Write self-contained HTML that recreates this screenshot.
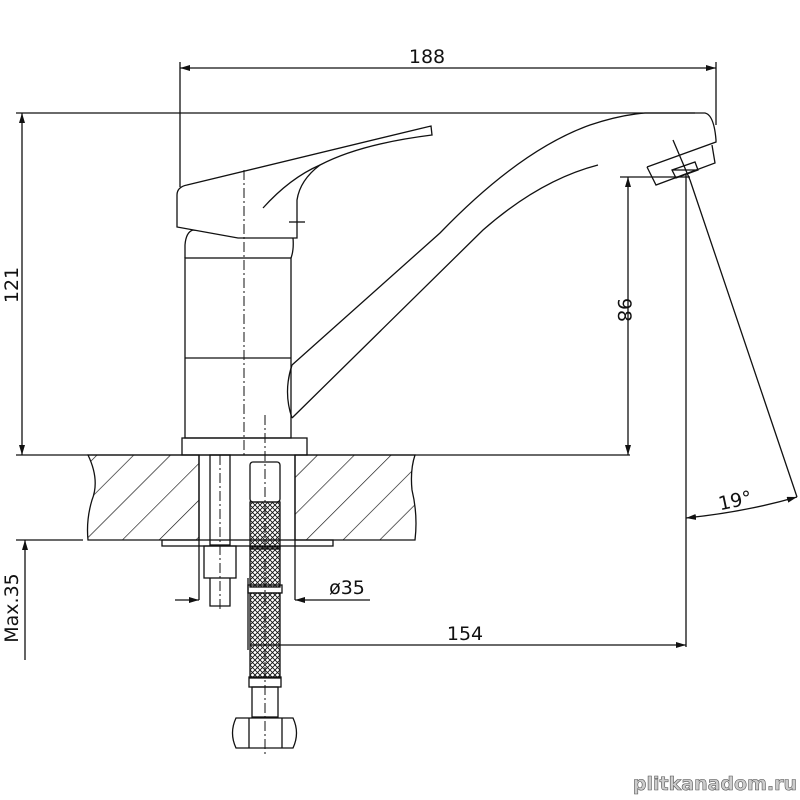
<!DOCTYPE html>
<html><head><meta charset="utf-8"><style>
html,body{margin:0;padding:0;background:#fff}
svg{display:block}
text{font-family:"DejaVu Sans","Liberation Sans",sans-serif;fill:#111}
</style></head><body>
<svg width="800" height="800" viewBox="0 0 800 800" xmlns="http://www.w3.org/2000/svg">
<defs>
<pattern id="hatch" patternUnits="userSpaceOnUse" width="26" height="26" patternTransform="rotate(45)">
<line x1="0" y1="0" x2="0" y2="26" stroke="#111" stroke-width="1.3"/>
</pattern>
<pattern id="mesh" patternUnits="userSpaceOnUse" width="5" height="5">
<path d="M0 0L5 5M5 0L0 5" stroke="#111" stroke-width="0.9"/>
</pattern>
<marker id="ar" viewBox="0 0 10 6" refX="10" refY="3" markerWidth="10" markerHeight="6" orient="auto-start-reverse" markerUnits="userSpaceOnUse">
<path d="M0 0L10 3L0 6z" fill="#111"/>
</marker>
</defs>
<g fill="none" stroke="#111" stroke-width="1.3">
<path d="M88 455 Q100 480 92 500 Q86 520 88 540 L199 540 L199 455 Z" fill="url(#hatch)"/>
<path d="M295 455 L415 455 Q410 470 412 490 Q418 515 415 540 L295 540 Z" fill="url(#hatch)"/>
<line x1="16" y1="455" x2="630" y2="455"/>
<line x1="16" y1="540" x2="83" y2="540"/>
<line x1="199" y1="455" x2="199" y2="600"/>
<line x1="295" y1="455" x2="295" y2="600"/>
<rect x="162" y="540" width="171" height="6"/>
<rect x="210" y="455" width="20" height="90"/>
<rect x="204" y="546" width="32" height="32"/>
<path d="M210 578 L210 606 L230 606 L230 578"/>
<rect x="250" y="462" width="30" height="40" rx="3"/>
<rect x="250" y="502" width="30" height="47" fill="url(#mesh)"/>
<rect x="250" y="547" width="30" height="40" fill="url(#mesh)"/>
<rect x="250" y="593" width="30" height="85" fill="url(#mesh)"/>
<rect x="248" y="585" width="34" height="8"/>
<rect x="249" y="677" width="32" height="10"/>
<rect x="252" y="687" width="26" height="30"/>
<path d="M236 718 L293 718 Q300 733 293 748 L236 748 Q229 733 236 718Z"/>
<line x1="249" y1="718" x2="249" y2="748"/><line x1="282" y1="718" x2="282" y2="748"/>
<rect x="182" y="438" width="125" height="17"/>
<rect x="185" y="258" width="106" height="180"/>
<line x1="185" y1="358" x2="291" y2="358"/>
<path d="M185 258 L185 245 Q186 232 193 230 L293 238 Q294 250 291 258"/>
<path d="M177 227 L177 195 Q177 187 187 185 L431 126 L432 135 Q360 144 320 165 Q300 180 297 200 L297 238 L238 238 Z" fill="#fff"/>
<path d="M263 208 Q290 178 320 165"/>
<line x1="289" y1="222" x2="305" y2="222"/>
<path d="M292 365 Q283 392 292 418" />
<path d="M292 365 L440 233 Q520 150 590 125 Q620 115 645 113 L705 113 Q714 115 716 140 L716 142 L647 167"/>
<path d="M292 418 L483 230 Q540 180 598 165"/>
<path d="M647 167 L656 185 L715 163 L712 145"/>
<path d="M672 170 L695 162 L698 170 L676 178 Z M672 170 L698 170"/>
<line x1="673" y1="140" x2="690" y2="180"/>
<line x1="180" y1="62" x2="180" y2="187"/>
<line x1="716" y1="62" x2="716" y2="125"/>
<line x1="180" y1="68" x2="716" y2="68" marker-start="url(#ar)" marker-end="url(#ar)"/>
<line x1="16" y1="113" x2="695" y2="113"/>
<line x1="22" y1="113" x2="22" y2="455" marker-start="url(#ar)" marker-end="url(#ar)"/>
<line x1="620" y1="177" x2="690" y2="177"/>
<line x1="628" y1="177" x2="628" y2="455" marker-start="url(#ar)" marker-end="url(#ar)"/>
<line x1="686" y1="175" x2="686" y2="647"/>
<line x1="690" y1="180" x2="797" y2="497"/>
<path d="M686 518 Q745 512 797 497" marker-start="url(#ar)" marker-end="url(#ar)"/>
<line x1="250" y1="645" x2="686" y2="645" marker-end="url(#ar)"/>
<line x1="248" y1="578" x2="248" y2="650"/>
<line x1="175" y1="600" x2="199" y2="600" marker-end="url(#ar)"/>
<line x1="295" y1="600" x2="370" y2="600" marker-start="url(#ar)"/>
<line x1="25" y1="540" x2="25" y2="660" marker-start="url(#ar)"/>
</g>
<g stroke="#111" stroke-width="1" stroke-dasharray="10,3,2,3">
<line x1="244" y1="170" x2="244" y2="458"/>
<line x1="220" y1="455" x2="220" y2="612"/>
<line x1="265" y1="415" x2="265" y2="755"/>
</g>
<text x="427" y="63" font-size="19" text-anchor="middle">188</text>
<text transform="translate(18 285) rotate(-90)" font-size="19" text-anchor="middle">121</text>
<text transform="translate(618 310) rotate(90)" font-size="19" text-anchor="middle">98</text>
<text x="735" y="507" font-size="19" text-anchor="middle" transform="rotate(-12 735 500)">19°</text>
<text x="465" y="640" font-size="19" text-anchor="middle">154</text>
<text x="347" y="594" font-size="19" text-anchor="middle">ø35</text>
<text transform="translate(18 608) rotate(-90)" font-size="19" text-anchor="middle">Max.35</text>
<text x="797" y="790" font-size="19" text-anchor="end" font-weight="bold" style="fill:#ccc;stroke:#555;stroke-width:0.6">plitkanadom.ru</text>
</svg>
</body></html>
